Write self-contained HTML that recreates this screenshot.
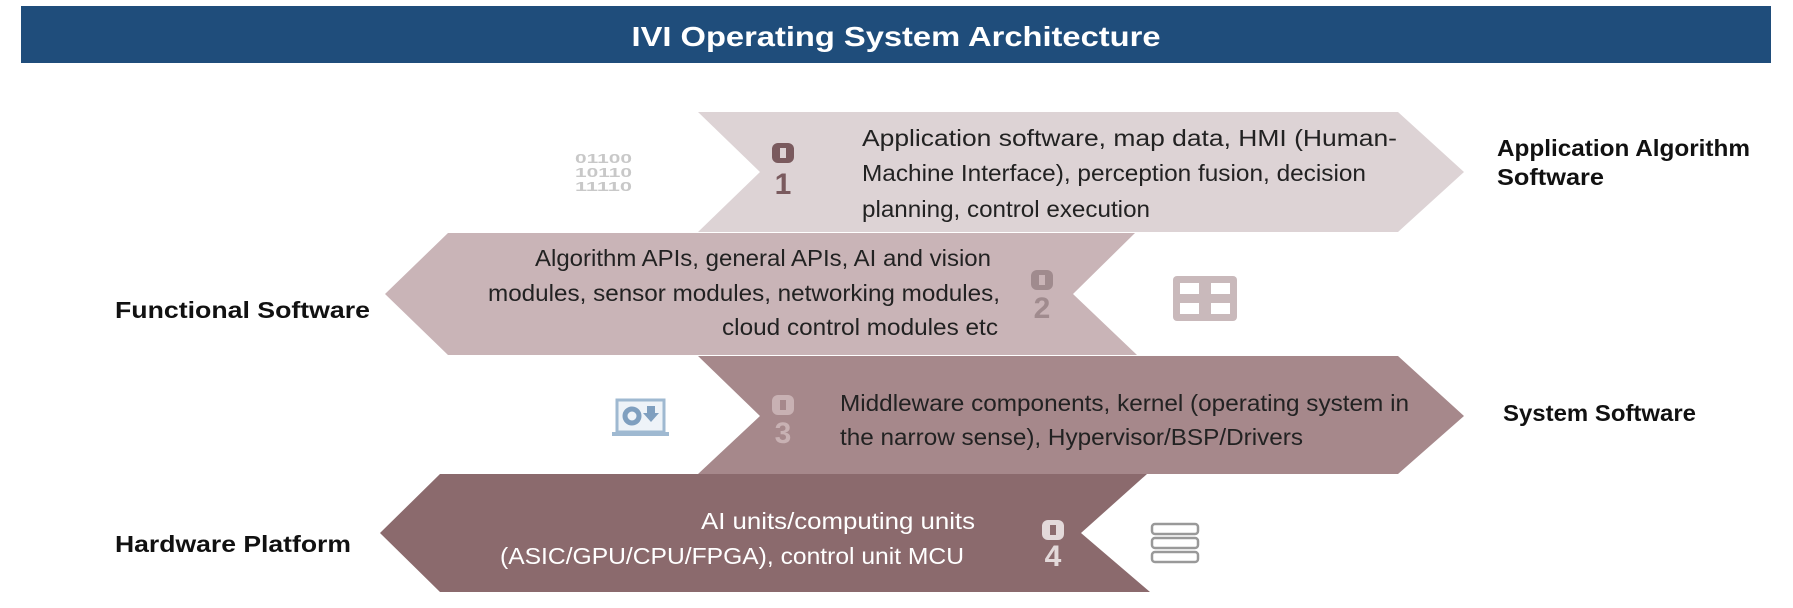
<!DOCTYPE html>
<html><head><meta charset="utf-8"><style>
html,body{margin:0;padding:0;background:#fff;}
svg{display:block;}
text{font-family:"Liberation Sans",Arial,sans-serif;}
</style></head><body>
<svg width="1793" height="608" viewBox="0 0 1793 608" xmlns="http://www.w3.org/2000/svg">
<rect x="21" y="6" width="1750" height="57" fill="#1f4d7b"/>
<text x="896" y="46" text-anchor="middle" font-size="28" font-weight="bold" fill="#fff" textLength="529" lengthAdjust="spacingAndGlyphs">IVI Operating System Architecture</text>

<polygon points="698,112 1398,112 1464,172 1398,232 698,232 760,172" fill="#ddd3d5"/>
<polygon points="448,233 1135,233 1073,294 1137,355 448,355 385,294" fill="#c9b4b7"/>
<polygon points="698,356 1398,356 1464,416 1398,474 698,474 760,416" fill="#a6888b"/>
<polygon points="440,474 1147,474 1081,533 1150,592 440,592 380,533" fill="#8b6a6d"/>

<g font-size="23" fill="#222">
<text x="862" y="146" textLength="535" lengthAdjust="spacingAndGlyphs">Application software, map data, HMI (Human-</text>
<text x="862" y="181" textLength="504" lengthAdjust="spacingAndGlyphs">Machine Interface), perception fusion, decision</text>
<text x="862" y="217" textLength="288" lengthAdjust="spacingAndGlyphs">planning, control execution</text>

<text x="535" y="266" textLength="456" lengthAdjust="spacingAndGlyphs">Algorithm APIs, general APIs, AI and vision</text>
<text x="488" y="301" textLength="512" lengthAdjust="spacingAndGlyphs">modules, sensor modules, networking modules,</text>
<text x="722" y="335" textLength="276" lengthAdjust="spacingAndGlyphs">cloud control modules etc</text>

<text x="840" y="411" textLength="569" lengthAdjust="spacingAndGlyphs">Middleware components, kernel (operating system in</text>
<text x="840" y="445" textLength="463" lengthAdjust="spacingAndGlyphs">the narrow sense), Hypervisor/BSP/Drivers</text>
</g>
<g font-size="23" fill="#fff">
<text x="701" y="529" textLength="274" lengthAdjust="spacingAndGlyphs">AI units/computing units</text>
<text x="500" y="564" textLength="464" lengthAdjust="spacingAndGlyphs">(ASIC/GPU/CPU/FPGA), control unit MCU</text>
</g>

<g font-size="23" font-weight="bold" fill="#111">
<text x="1497" y="156" textLength="253" lengthAdjust="spacingAndGlyphs">Application Algorithm</text>
<text x="1497" y="185" textLength="107" lengthAdjust="spacingAndGlyphs">Software</text>
<text x="115" y="318" textLength="255" lengthAdjust="spacingAndGlyphs">Functional Software</text>
<text x="1503" y="421" textLength="193" lengthAdjust="spacingAndGlyphs">System Software</text>
<text x="115" y="552" textLength="236" lengthAdjust="spacingAndGlyphs">Hardware Platform</text>
</g>

<!-- numbers: rotated-0 as rounded block + digit -->
<g font-weight="bold" font-size="30" text-anchor="middle">
<g fill="#7a5a5e"><rect x="772" y="143" width="22" height="20" rx="6"/><rect x="780" y="148" width="6" height="10" fill="#ddd3d5"/><text x="783" y="194">1</text></g>
<g fill="#a08b8e"><rect x="1031" y="270" width="22" height="20" rx="6"/><rect x="1039" y="275" width="6" height="10" fill="#c9b4b7"/><text x="1042" y="318">2</text></g>
<g fill="#c8b1b3"><rect x="772" y="395" width="22" height="20" rx="6"/><rect x="780" y="400" width="6" height="10" fill="#a6888b"/><text x="783" y="443">3</text></g>
<g fill="#e3d9da"><rect x="1042" y="520" width="22" height="20" rx="6"/><rect x="1050" y="525" width="6" height="10" fill="#8b6a6d"/><text x="1053" y="566">4</text></g>
</g>

<g font-family="Liberation Mono,monospace" font-size="13" fill="#c8c8c8" font-weight="bold">
<text x="575" y="163" textLength="57" lengthAdjust="spacingAndGlyphs">01100</text>
<text x="575" y="177" textLength="57" lengthAdjust="spacingAndGlyphs">10110</text>
<text x="575" y="191" textLength="57" lengthAdjust="spacingAndGlyphs">11110</text>
</g>
<rect x="1173" y="276" width="64" height="45" rx="4" fill="#c9b9bb"/>
<g fill="#fff">
<rect x="1180" y="283" width="19" height="11"/><rect x="1211" y="283" width="19" height="11"/>
<rect x="1180" y="303" width="19" height="11"/><rect x="1211" y="303" width="19" height="11"/>
</g>
<g>
<rect x="617" y="400" width="47" height="32" fill="#eef3f8" stroke="#9fb9d1" stroke-width="3"/>
<rect x="612" y="432" width="57" height="4" fill="#9fb9d1"/>
<circle cx="632" cy="416" r="7" fill="none" stroke="#7f9fbf" stroke-width="5"/>
<path d="M647 406 h8 v7 h4 l-8 9 -8 -9 h4z" fill="#7f9fbf"/>
</g>
<g fill="#fff" stroke="#999" stroke-width="2.5">
<rect x="1152" y="524" width="46" height="10" rx="3"/>
<rect x="1152" y="538" width="46" height="10" rx="3"/>
<rect x="1152" y="552" width="46" height="10" rx="3"/>
</g>
</svg>
</body></html>
